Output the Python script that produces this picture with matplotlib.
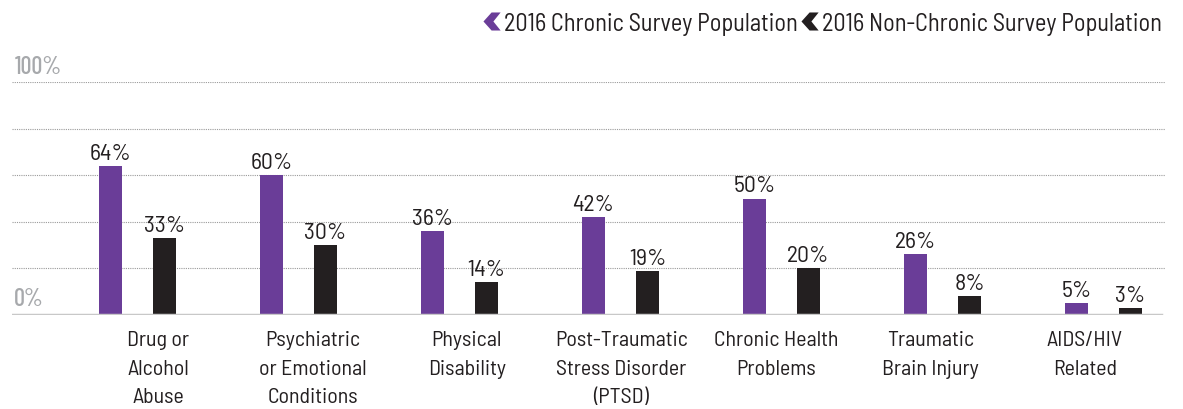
import numpy as np
import matplotlib.pyplot as plt
from matplotlib.path import Path
from matplotlib.lines import Line2D

# data
categories = ["Drug or\nAlcohol\nAbuse", "Psychiatric\nor Emotional\nConditions",
              "Physical\nDisability", "Post-Traumatic\nStress Disorder\n(PTSD)",
              "Chronic Health\nProblems", "Traumatic\nBrain Injury", "AIDS/HIV\nRelated"]
chronic = [64, 60, 36, 42, 50, 26, 5]
non_chronic = [33, 30, 14, 19, 20, 8, 3]
series_names = ["2016 Chronic Survey Population", "2016 Non-Chronic Survey Population"]

purple = "#6a3d98"
dark = "#231f20"
gray_txt = "#a7a9ac"

plt.rcParams['font.family'] = ["Barlow Semi Condensed", "DejaVu Sans"]

fig = plt.figure(figsize=(11.83, 4.10), dpi=100)
ax = fig.add_axes([12/1183, (410-316)/410, 1153/1183, 233/410])

x = np.arange(len(categories))
w = 0.143
off = 0.168
b1 = ax.bar(x - off, chronic, w, color=purple, zorder=3)
b2 = ax.bar(x + off, non_chronic, w, color=dark, zorder=3)

for bars, vals in ((b1, chronic), (b2, non_chronic)):
    for r, v in zip(bars, vals):
        ax.annotate(f"{v}%", (r.get_x() + r.get_width()/2, r.get_height()),
                    xytext=(0, 1.5), textcoords="offset points",
                    ha="center", va="bottom", fontsize=17, color=dark)

ax.set_xlim(-0.7795, 6.382)
ax.set_ylim(0, 100)

for g in [20, 40, 60, 80, 100]:
    ax.axhline(g, color="#9a9a9a", lw=0.8, ls=(0, (1, 1)), zorder=1)
ax.axhline(0, color="#c8c8c8", lw=2.5, zorder=4, xmax=0.9965)

ax.text(0.002, 101.8, "100%", transform=ax.get_yaxis_transform(), fontsize=17.5,
        family=["Barlow Condensed", "DejaVu Sans"], weight="medium",
        color=gray_txt, ha="left", va="bottom")
ax.text(0.002, 2.2, "0%", transform=ax.get_yaxis_transform(), fontsize=17.5,
        family=["Barlow Condensed", "DejaVu Sans"], weight="medium",
        color=gray_txt, ha="left", va="bottom")

# category labels sit on a slightly tighter pitch than the bars
for i, c in enumerate(categories):
    ax.text(0.127 + 0.9596*i, -6.6, c, ha="center", va="top", fontsize=15.8,
            color=dark, linespacing=1.62)

for s in ax.spines.values():
    s.set_visible(False)
ax.set_xticks([])
ax.set_yticks([])

chev = Path([(-1, 0), (-0.1, 1), (0.9, 1), (0.1, 0), (0.9, -1), (-0.1, -1), (-1, 0)],
            [Path.MOVETO] + [Path.LINETO]*5 + [Path.CLOSEPOLY])
handles = [Line2D([], [], ls="", marker=chev, ms=13, color=purple, mew=0),
           Line2D([], [], ls="", marker=chev, ms=13, color=dark, mew=0)]
fig.legend(handles, series_names, loc="upper right", bbox_to_anchor=(1179/1183, 1.01),
           ncol=2, frameon=False, fontsize=17.5, handlelength=0.7, handletextpad=0.15,
           columnspacing=0.15, labelcolor=dark, borderaxespad=0.3)

fig.savefig("out.png", dpi=100)
